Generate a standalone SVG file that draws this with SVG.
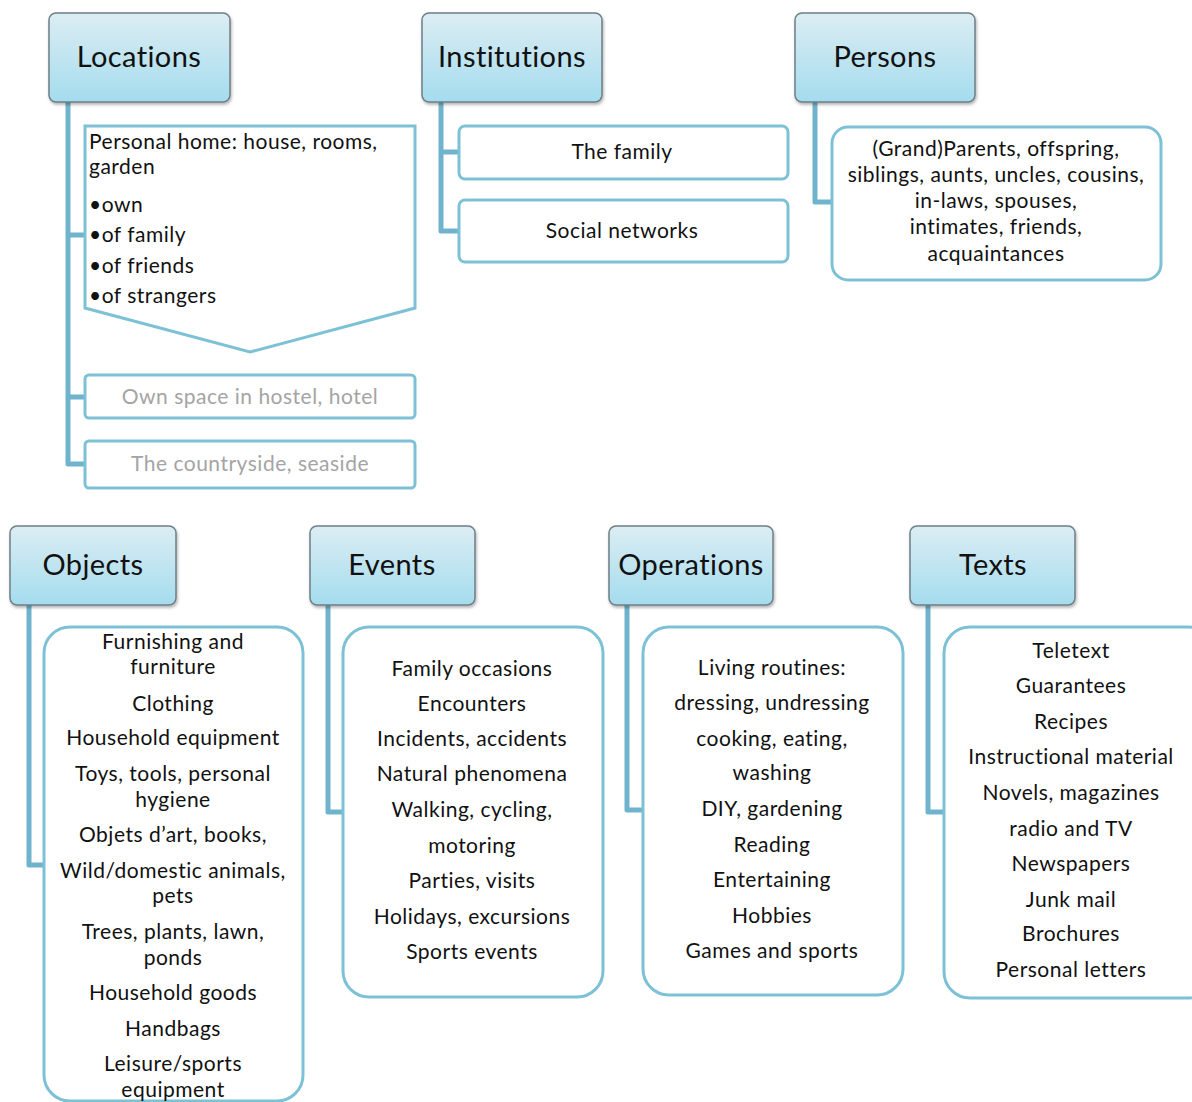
<svg xmlns="http://www.w3.org/2000/svg" width="1192" height="1102" viewBox="0 0 1192 1102">
  <defs>
    <linearGradient id="hdr" x1="0" y1="0" x2="0" y2="1">
      <stop offset="0" stop-color="#dcedf3"/>
      <stop offset="1" stop-color="#a4dcee"/>
    </linearGradient>
    <filter id="shadow" x="-10%" y="-10%" width="125%" height="130%">
      <feDropShadow dx="1" dy="2" stdDeviation="1.5" flood-color="#000" flood-opacity="0.3"/>
    </filter>
    <style>
      .hdr { fill: url(#hdr); stroke: #6e7f86; stroke-width: 1.5; filter: url(#shadow); }
      .hdr-t { font-family: Lato, "Liberation Sans", sans-serif; font-size: 29px; letter-spacing: 0.4px; fill: #111; text-anchor: middle; dominant-baseline: central; }
      .box { fill: #fff; stroke: #7dc1d6; stroke-width: 3; }
      .t { font-family: Lato, "Liberation Sans", sans-serif; font-size: 21px; letter-spacing: 0.5px; fill: #111; text-anchor: middle; dominant-baseline: central; }
      .tl { font-family: Lato, "Liberation Sans", sans-serif; font-size: 21px; letter-spacing: 0.5px; fill: #111; dominant-baseline: central; }
      .grey { fill: #a4a4a4; }
      .conn { fill: none; stroke: #6fb4cc; stroke-width: 5; stroke-linejoin: round; }
    </style>
  </defs>

  <!-- tree connectors -->
  <g id="connectors">
    <path class="conn" d="M68,102 V464 H86 M68,235 H86 M68,397 H86"/>
    <path class="conn" d="M441,102 V231 H460 M441,152 H460"/>
    <path class="conn" d="M815,102 V202 H833"/>
    <path class="conn" d="M29,605 V865 H44"/>
    <path class="conn" d="M328,605 V812 H344"/>
    <path class="conn" d="M627,605 V810 H644"/>
    <path class="conn" d="M928,605 V812 H945"/>
  </g>

  <!-- Locations -->
  <g id="locations">
    <rect class="hdr" x="49" y="13" width="181" height="89" rx="7"/>
    <text class="hdr-t" x="139" y="55">Locations</text>
  </g>
  <g id="personal-home">
    <path class="box" d="M85,126 H415 V308 L250,352 L85,308 Z"/>
    <text class="tl" x="89" y="140">Personal home: house, rooms,</text>
    <text class="tl" x="89" y="165">garden</text>
    <text class="tl" x="89" y="203">•own</text>
    <text class="tl" x="89" y="233">•of family</text>
    <text class="tl" x="89" y="264">•of friends</text>
    <text class="tl" x="89" y="294">•of strangers</text>
  </g>
  <g id="hostel">
    <rect class="box" x="85" y="375" width="330" height="43" rx="4"/>
    <text class="t grey" x="250" y="395">Own space in hostel, hotel</text>
  </g>
  <g id="countryside">
    <rect class="box" x="85" y="441" width="330" height="47" rx="4"/>
    <text class="t grey" x="250" y="462">The countryside, seaside</text>
  </g>

  <!-- Institutions -->
  <g id="institutions">
    <rect class="hdr" x="422" y="13" width="180" height="89" rx="7"/>
    <text class="hdr-t" x="512" y="55">Institutions</text>
  </g>
  <g id="family">
    <rect class="box" x="459" y="126" width="329" height="53" rx="6"/>
    <text class="t" x="622" y="150">The family</text>
  </g>
  <g id="social-networks">
    <rect class="box" x="459" y="200" width="329" height="62" rx="6"/>
    <text class="t" x="622" y="229">Social networks</text>
  </g>

  <!-- Persons -->
  <g id="persons">
    <rect class="hdr" x="795" y="13" width="180" height="89" rx="7"/>
    <text class="hdr-t" x="885" y="55">Persons</text>
  </g>
  <g id="persons-list">
    <rect class="box" x="832" y="127" width="329" height="153" rx="16"/>
    <text class="t" x="996" y="147">(Grand)Parents, offspring,</text>
    <text class="t" x="996" y="173">siblings, aunts, uncles, cousins,</text>
    <text class="t" x="996" y="199">in-laws, spouses,</text>
    <text class="t" x="996" y="225">intimates, friends,</text>
    <text class="t" x="996" y="252">acquaintances</text>
  </g>

  <!-- Objects -->
  <g id="objects">
    <rect class="hdr" x="10" y="526" width="166" height="79" rx="7"/>
    <text class="hdr-t" x="93" y="563">Objects</text>
  </g>
  <g id="objects-list">
    <rect class="box" x="44" y="627" width="259" height="474" rx="26"/>
    <text class="t" x="173" y="640">Furnishing and</text>
    <text class="t" x="173" y="665">furniture</text>
    <text class="t" x="173" y="702">Clothing</text>
    <text class="t" x="173" y="736">Household equipment</text>
    <text class="t" x="173" y="772">Toys, tools, personal</text>
    <text class="t" x="173" y="798">hygiene</text>
    <text class="t" x="173" y="833">Objets d’art, books,</text>
    <text class="t" x="173" y="869">Wild/domestic animals,</text>
    <text class="t" x="173" y="894">pets</text>
    <text class="t" x="173" y="930">Trees, plants, lawn,</text>
    <text class="t" x="173" y="956">ponds</text>
    <text class="t" x="173" y="991">Household goods</text>
    <text class="t" x="173" y="1027">Handbags</text>
    <text class="t" x="173" y="1062">Leisure/sports</text>
    <text class="t" x="173" y="1088">equipment</text>
  </g>

  <!-- Events -->
  <g id="events">
    <rect class="hdr" x="310" y="526" width="165" height="79" rx="7"/>
    <text class="hdr-t" x="392" y="563">Events</text>
  </g>
  <g id="events-list">
    <rect class="box" x="343" y="627" width="260" height="370" rx="26"/>
    <text class="t" x="472" y="667">Family occasions</text>
    <text class="t" x="472" y="702">Encounters</text>
    <text class="t" x="472" y="737">Incidents, accidents</text>
    <text class="t" x="472" y="772">Natural phenomena</text>
    <text class="t" x="472" y="808">Walking, cycling,</text>
    <text class="t" x="472" y="844">motoring</text>
    <text class="t" x="472" y="879">Parties, visits</text>
    <text class="t" x="472" y="915">Holidays, excursions</text>
    <text class="t" x="472" y="950">Sports events</text>
  </g>

  <!-- Operations -->
  <g id="operations">
    <rect class="hdr" x="609" y="526" width="164" height="79" rx="7"/>
    <text class="hdr-t" x="691" y="563">Operations</text>
  </g>
  <g id="operations-list">
    <rect class="box" x="643" y="627" width="260" height="368" rx="26"/>
    <text class="t" x="772" y="666">Living routines:</text>
    <text class="t" x="772" y="701">dressing, undressing</text>
    <text class="t" x="772" y="737">cooking, eating,</text>
    <text class="t" x="772" y="771">washing</text>
    <text class="t" x="772" y="807">DIY, gardening</text>
    <text class="t" x="772" y="843">Reading</text>
    <text class="t" x="772" y="878">Entertaining</text>
    <text class="t" x="772" y="914">Hobbies</text>
    <text class="t" x="772" y="949">Games and sports</text>
  </g>

  <!-- Texts -->
  <g id="texts">
    <rect class="hdr" x="910" y="526" width="165" height="79" rx="7"/>
    <text class="hdr-t" x="993" y="563">Texts</text>
  </g>
  <g id="texts-list">
    <rect class="box" x="944" y="627" width="270" height="371" rx="26"/>
    <text class="t" x="1071" y="649">Teletext</text>
    <text class="t" x="1071" y="684">Guarantees</text>
    <text class="t" x="1071" y="720">Recipes</text>
    <text class="t" x="1071" y="755">Instructional material</text>
    <text class="t" x="1071" y="791">Novels, magazines</text>
    <text class="t" x="1071" y="827">radio and TV</text>
    <text class="t" x="1071" y="862">Newspapers</text>
    <text class="t" x="1071" y="898">Junk mail</text>
    <text class="t" x="1071" y="932">Brochures</text>
    <text class="t" x="1071" y="968">Personal letters</text>
  </g>
</svg>
